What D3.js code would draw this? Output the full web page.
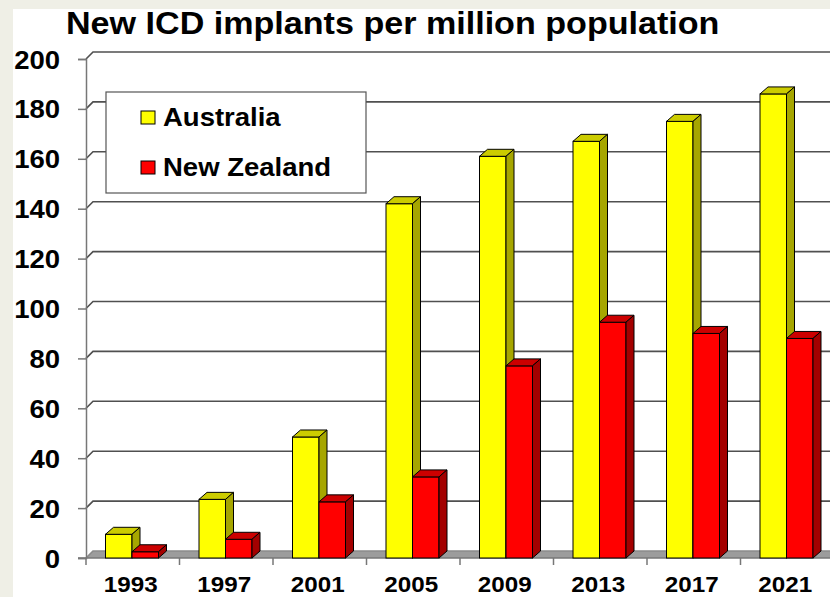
<!DOCTYPE html>
<html>
<head>
<meta charset="utf-8">
<script src="https://cdn.jsdelivr.net/npm/d3@7"></script>
<style>
  body { margin: 0; background: #efefe6; }
  svg { display: block; }
  text { font-family: "Liberation Sans", Arial, sans-serif; font-weight: bold; fill: #000; }
</style>
</head>
<body>
<div id="chart"></div>
<script>
const years = ["1993", "1997", "2001", "2005", "2009", "2013", "2017", "2021"];
const australia = [9.5, 23.5, 48.5, 142, 161, 167, 175, 186];
const newZealand = [2.5, 7.5, 22.5, 32.5, 77, 94.5, 90, 88];
const seriesNames = ["Australia", "New Zealand"];
const yTicks = [0, 20, 40, 60, 80, 100, 120, 140, 160, 180, 200];

const W = 830, H = 597;
const stretch = "scale(1.1,1)"; // text in the original is a bit wide

const svg = d3.select("#chart").append("svg")
    .attr("width", W).attr("height", H);

// white panel
svg.append("rect").attr("x", 13).attr("y", 9)
   .attr("width", W - 13).attr("height", H - 9).attr("fill", "#fff");

// scales
const x = d3.scaleBand().domain(years).range([86, 86 + 8 * 93.5]);
const x1 = d3.scaleBand().domain(seriesNames).range([19.5, 72.5]);
const y = d3.scaleLinear().domain([0, 200]).range([558, 59]);
const depth = {dx: 8, dy: 7};
const wall = {dx: 7, dy: 7};
const right = 845;

// colours: front, top, side
const color = d3.scaleOrdinal().domain(seriesNames)
    .range([["#ffff00", "#cccc00", "#a6a600"], ["#ff0000", "#cc0000", "#a30000"]]);

// floor
svg.append("polygon")
   .attr("points", [[x.range()[0], y(0)], [x.range()[0] + wall.dx, y(0) - wall.dy],
                    [right, y(0) - wall.dy], [right, y(0)]].join(" "))
   .attr("fill", "#9c9c9c");

// gridlines on back wall
svg.append("g").selectAll("path")
    .data(yTicks)
    .join("path")
    .attr("d", d => `M${x.range()[0]},${y(d)} L${x.range()[0] + wall.dx},${y(d) - wall.dy} L${right},${y(d) - wall.dy}`)
    .attr("fill", "none")
    .attr("stroke", d => d === 0 ? "#8a8a8a" : "#505050")
    .attr("stroke-width", 1.6);

// y axis
const yAxis = svg.append("g")
    .attr("transform", `translate(${x.range()[0]},0)`)
    .call(d3.axisLeft(y).tickValues(yTicks).tickSize(8).tickPadding(18));
yAxis.select(".domain").attr("stroke", "#777").attr("stroke-width", 1.5);
yAxis.selectAll(".tick line").attr("stroke", "#777").attr("stroke-width", 1.5);
yAxis.selectAll(".tick text")
    .attr("x", null)
    .attr("transform", `translate(-26,0) ${stretch}`)
    .attr("dy", "0.36em")
    .style("font-size", "25px")
    .style("font-family", "'Liberation Sans', Arial, sans-serif")
    .style("font-weight", "bold");
yAxis.attr("font-family", null).attr("font-size", null);

// x axis line and boundary ticks
svg.append("line")
   .attr("x1", 78).attr("x2", right).attr("y1", y(0)).attr("y2", y(0))
   .attr("stroke", "#777").attr("stroke-width", 1.5);
svg.append("g").selectAll("line")
    .data(years.concat(["end"]))
    .join("line")
    .attr("x1", (d, i) => x.range()[0] + i * x.step())
    .attr("x2", (d, i) => x.range()[0] + i * x.step())
    .attr("y1", y(0)).attr("y2", y(0) + 7)
    .attr("stroke", "#777").attr("stroke-width", 1.5);

// bars
const groups = svg.append("g").selectAll("g")
    .data(years)
    .join("g")
    .attr("transform", d => `translate(${x(d)},0)`);

const bars = groups.selectAll("g")
    .data((d, i) => [
        {name: "Australia", value: australia[i]},
        {name: "New Zealand", value: newZealand[i]}
    ])
    .join("g");

const bw = x1.bandwidth();
bars.append("rect")
    .attr("x", d => x1(d.name))
    .attr("y", d => y(d.value))
    .attr("width", bw)
    .attr("height", d => y(0) - y(d.value))
    .attr("fill", d => color(d.name)[0])
    .attr("stroke", "#000").attr("stroke-width", 1);

bars.append("polygon")
    .attr("points", d => {
        const x0 = x1(d.name), yt = y(d.value);
        return [[x0, yt], [x0 + depth.dx, yt - depth.dy], [x0 + bw + depth.dx, yt - depth.dy], [x0 + bw, yt]].join(" ");
    })
    .attr("fill", d => color(d.name)[1])
    .attr("stroke", "#000").attr("stroke-width", 1).attr("stroke-linejoin", "round");

bars.append("polygon")
    .attr("points", d => {
        const x0 = x1(d.name) + bw, yt = y(d.value);
        return [[x0, yt], [x0 + depth.dx, yt - depth.dy], [x0 + depth.dx, y(0) - depth.dy], [x0, y(0)]].join(" ");
    })
    .attr("fill", d => color(d.name)[2])
    .attr("stroke", "#000").attr("stroke-width", 1).attr("stroke-linejoin", "round");

// x labels
svg.append("g").selectAll("text")
    .data(years)
    .join("text")
    .attr("transform", d => `translate(${x(d) + x.bandwidth() / 2 - 2},592) ${stretch}`)
    .attr("text-anchor", "middle")
    .style("font-size", "22px")
    .text(d => d);

// legend
const legend = svg.append("g");
legend.append("rect")
    .attr("x", 106).attr("y", 92).attr("width", 260).attr("height", 101)
    .attr("fill", "#fff").attr("stroke", "#555").attr("stroke-width", 1.2);
const items = legend.selectAll("g")
    .data(seriesNames)
    .join("g")
    .attr("transform", (d, i) => `translate(141,${111 + i * 50})`);
items.append("rect")
    .attr("width", 14).attr("height", 13)
    .attr("fill", d => color(d)[0])
    .attr("stroke", "#000").attr("stroke-width", 1);
items.append("text")
    .attr("transform", `translate(22,14.5) ${stretch}`)
    .style("font-size", "25px")
    .text(d => d);

// title
svg.append("text")
   .attr("transform", `translate(66,34) ${stretch}`)
   .style("font-size", "31px")
   .text("New ICD implants per million population");
</script>
</body>
</html>
